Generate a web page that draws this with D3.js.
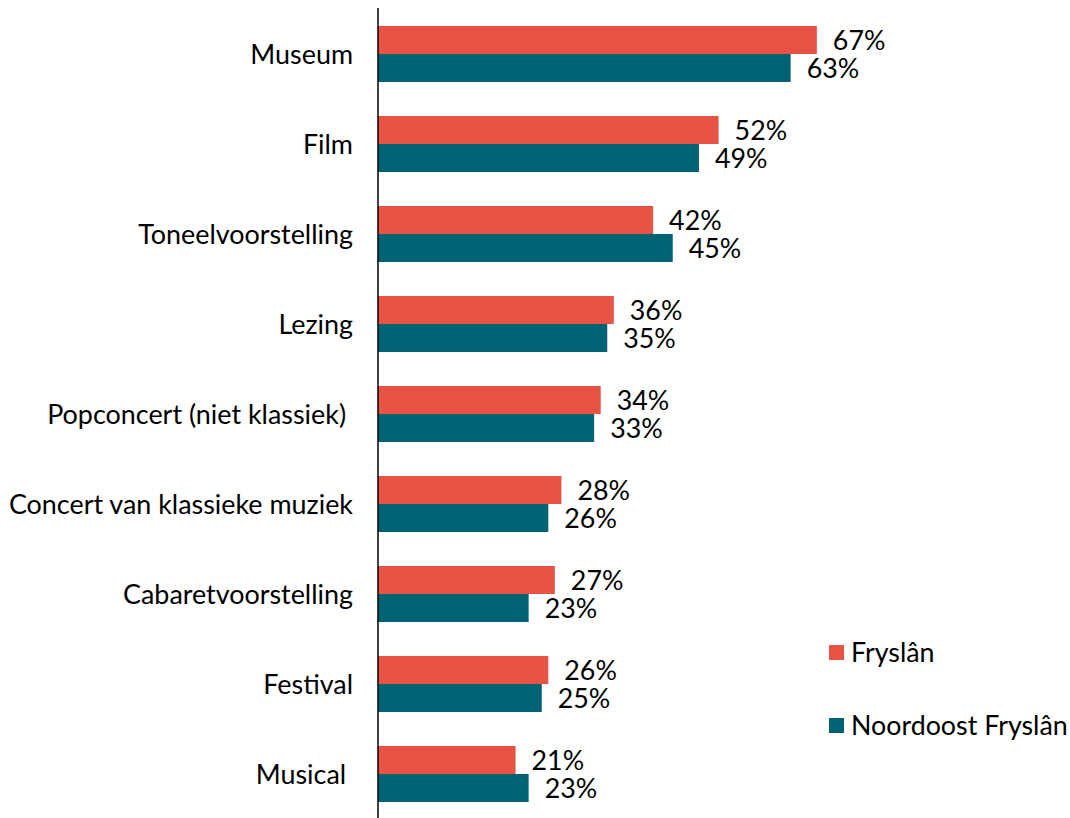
<!DOCTYPE html>
<html>
<head>
<meta charset="utf-8">
<script src="https://d3js.org/d3.v7.min.js"></script>
<style>
body { margin: 0; background: #fff; }
text { font-family: Lato, "Open Sans", sans-serif; fill: #000; white-space: pre; }
</style>
</head>
<body>
<svg width="1070" height="818"></svg>
<script>
const categories = ["Museum", "Film", "Toneelvoorstelling", "Lezing", "Popconcert (niet klassiek) ",
  "Concert van klassieke muziek", "Cabaretvoorstelling", "Festival", "Musical "];
const seriesNames = ["Fryslân", "Noordoost Fryslân"];
const fryslan = [67, 52, 42, 36, 34, 28, 27, 26, 21];
const noordoost = [63, 49, 45, 35, 33, 26, 23, 25, 23];
const colors = ["#E85343", "#006373"];

const svg = d3.select("svg");
const axisX = 378;

const x = d3.scaleLinear().domain([0, 100]).range([axisX, axisX + 655]);
const y = d3.scaleBand().domain(categories).range([9, 819]).paddingInner(0.378).paddingOuter(0.189);
const inner = d3.scaleBand().domain(seriesNames).range([0, y.bandwidth()]);

const rows = categories.map((c, i) => ({ cat: c, vals: [fryslan[i], noordoost[i]] }));

const groups = svg.selectAll(".grp").data(rows).enter().append("g")
  .attr("class", "grp")
  .attr("transform", d => `translate(0,${y(d.cat)})`);

groups.selectAll("rect").data(d => d.vals.map((v, j) => ({ v, s: seriesNames[j], j })))
  .enter().append("rect")
  .attr("x", x(0))
  .attr("y", d => inner(d.s))
  .attr("width", d => x(d.v) - x(0))
  .attr("height", inner.bandwidth())
  .attr("fill", d => colors[d.j]);

groups.selectAll(".val").data(d => d.vals.map((v, j) => ({ v, s: seriesNames[j] })))
  .enter().append("text")
  .attr("class", "val")
  .attr("x", d => x(d.v) + 16)
  .attr("y", d => inner(d.s) + inner.bandwidth() / 2 + 1)
  .attr("dy", "0.35em")
  .attr("font-size", 26.8)
  .text(d => d.v + "%");

// category axis
const yAxis = d3.axisLeft(y).tickSize(0).tickPadding(25);
const ax = svg.append("g").attr("transform", `translate(${axisX},0)`).call(yAxis);
ax.select(".domain").remove();
ax.selectAll("text").attr("font-size", 26.9).attr("dy", "0.36em")
  .style("font-family", "Lato, sans-serif").attr("fill", "#000");
svg.append("line").attr("x1", axisX).attr("x2", axisX).attr("y1", 8).attr("y2", 818)
  .attr("stroke", "#000").attr("stroke-width", 1.5);

// legend
const legend = svg.selectAll(".leg").data(seriesNames).enter().append("g")
  .attr("class", "leg")
  .attr("transform", (d, i) => `translate(829,${645 + i * 73})`);
legend.append("rect").attr("width", 15).attr("height", 15).attr("fill", (d, i) => colors[i]);
legend.append("text").attr("x", 22).attr("y", 8).attr("dy", "0.35em").attr("font-size", 26.8).text(d => d);
</script>
</body>
</html>
